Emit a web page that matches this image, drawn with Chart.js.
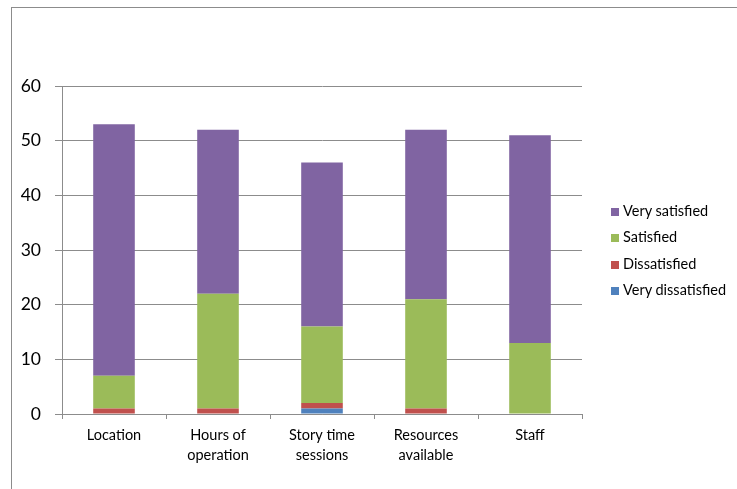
<!DOCTYPE html>
<html>
<head>
<meta charset="utf-8">
<script src="https://cdn.jsdelivr.net/npm/chart.js@4"></script>
<style>
  html, body { margin: 0; padding: 0; background: #fff; }
  #wrap { position: relative; width: 737px; height: 489px; overflow: hidden; font-family: Lato, sans-serif; }
  #frame { position: absolute; left: 11px; top: 7px; width: 800px; height: 600px; border: 1px solid #8c8c8c; box-sizing: border-box; }
  #chartBox { position: absolute; left: 0; top: 0; width: 737px; height: 489px; }
  #legend { position: absolute; left: 611px; top: 202px; font-size: 14.5px; color: #000; }
  .item { height: 26.3px; display: flex; align-items: flex-start; white-space: nowrap; }
  .box { width: 8px; height: 8px; margin: 6px 4px 0 0; }
</style>
</head>
<body>
<div id="wrap">
  <div id="frame"></div>
  <div id="chartBox"><canvas id="surveyChart"></canvas></div>
  <div id="legend"></div>
</div>
<script>
// 調査項目
const categories = ['Location', ['Hours of', 'operation'], ['Story time', 'sessions'], ['Resources', 'available'], 'Staff'];

// 各回答の件数
const veryDissatisfied = [0, 0, 1, 0, 0];
const dissatisfied = [1, 1, 1, 1, 0];
const satisfied = [6, 21, 14, 20, 13];
const verySatisfied = [46, 30, 30, 31, 38];

const yTicks = [0, 10, 20, 30, 40, 50, 60];

const series = [
    { label: 'Very dissatisfied', data: veryDissatisfied, color: '#4F81BD' },
    { label: 'Dissatisfied', data: dissatisfied, color: '#C0504D' },
    { label: 'Satisfied', data: satisfied, color: '#9BBB59' },
    { label: 'Very satisfied', data: verySatisfied, color: '#8064A2' }
];

const axisColor = '#8c8c8c';

const ctx = document.getElementById('surveyChart').getContext('2d');
new Chart(ctx, {
    type: 'bar',
    data: {
        labels: categories,
        datasets: series.map(s => ({
            label: s.label,
            data: s.data,
            backgroundColor: s.color,
            borderWidth: 0,
            barPercentage: 0.4,
            categoryPercentage: 1
        }))
    },
    options: {
        responsive: true,
        maintainAspectRatio: false,
        animation: false,
        layout: { padding: { left: 0, top: 86, right: 155, bottom: 0 } },
        plugins: {
            legend: { display: false },
            tooltip: { enabled: false }
        },
        scales: {
            x: {
                stacked: true,
                offset: true,
                grid: {
                    offset: true,
                    drawOnChartArea: false,
                    drawTicks: true,
                    tickLength: 5,
                    color: axisColor
                },
                border: { color: axisColor, width: 1 },
                ticks: {
                    color: '#000',
                    padding: 6,
                    maxRotation: 0,
                    autoSkip: false,
                    font: { family: 'Lato', size: 14.5, lineHeight: '20px' }
                },
                afterFit: scale => { scale.height = 75; }
            },
            y: {
                stacked: true,
                min: 0,
                max: 60,
                afterBuildTicks: scale => { scale.ticks = yTicks.map(v => ({ value: v })); },
                grid: {
                    color: axisColor,
                    tickLength: 7,
                    drawTicks: true
                },
                border: { color: axisColor, width: 1 },
                ticks: {
                    color: '#000',
                    padding: 14,
                    font: { family: 'Lato', size: 17.5 }
                },
                afterFit: scale => { scale.width = 62; }
            }
        }
    }
});

// 凡例（上から Very satisfied）
const legend = document.getElementById('legend');
series.slice().reverse().forEach(s => {
    const item = document.createElement('div');
    item.className = 'item';
    const box = document.createElement('span');
    box.className = 'box';
    box.style.background = s.color;
    const text = document.createElement('span');
    text.textContent = s.label;
    item.appendChild(box);
    item.appendChild(text);
    legend.appendChild(item);
});
</script>
</body>
</html>
